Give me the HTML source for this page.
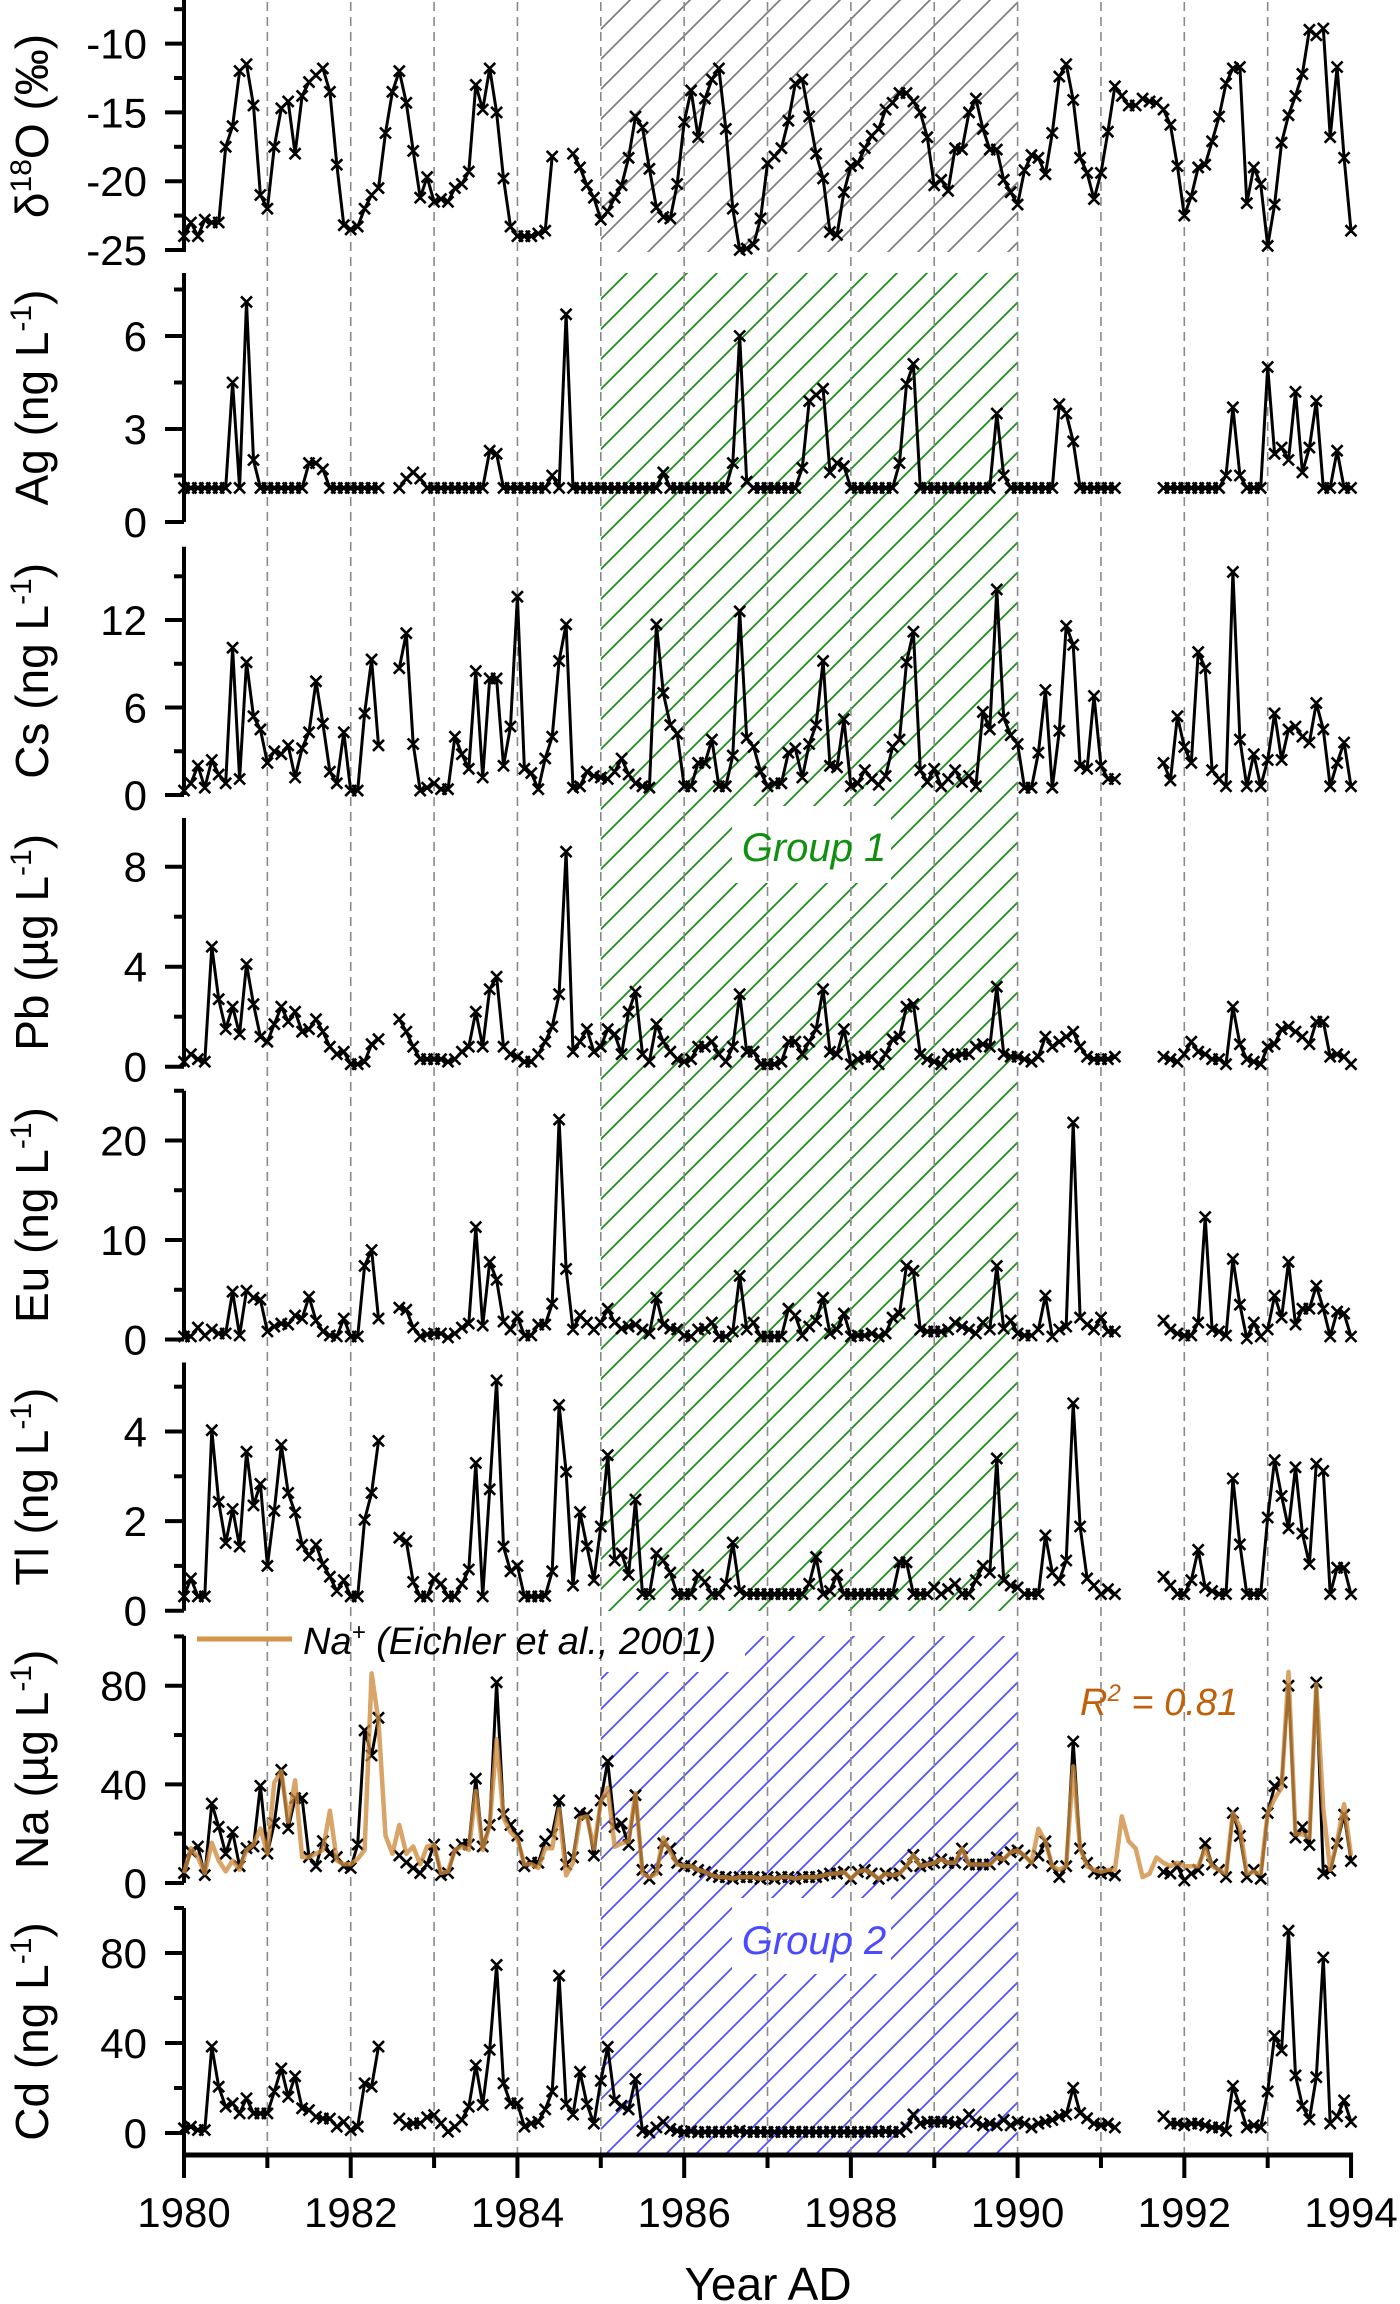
<!DOCTYPE html>
<html><head><meta charset="utf-8"><title>Ice core trace elements 1980-1994</title>
<style>
html,body{margin:0;padding:0;background:#fff;}
svg{display:block;font-family:"Liberation Sans",Arial,sans-serif;}
</style></head>
<body>
<svg id="chart" width="1400" height="2304" viewBox="0 0 1400 2304" xmlns="http://www.w3.org/2000/svg">
<defs>
<pattern id="hatchGray" patternUnits="userSpaceOnUse" width="30" height="30"><path d="M-5,5 L5,-5 M0,30 L30,0 M25,35 L35,25" stroke="#808080" stroke-width="1.8"/></pattern>
<pattern id="hatchGreen" patternUnits="userSpaceOnUse" width="30" height="30"><path d="M-5,5 L5,-5 M0,30 L30,0 M25,35 L35,25" stroke="#1a8f1a" stroke-width="1.8"/></pattern>
<pattern id="hatchBlue" patternUnits="userSpaceOnUse" width="30" height="30"><path d="M-5,5 L5,-5 M0,30 L30,0 M25,35 L35,25" stroke="#5050ff" stroke-width="1.8"/></pattern>
</defs>
<rect x="0" y="0" width="1400" height="2304" fill="#fff"/>
<g id="hatch">
<rect x="600.8" y="0" width="416.8" height="252" fill="url(#hatchGray)"/>
<rect x="600.8" y="273" width="416.8" height="1338" fill="url(#hatchGreen)"/>
<rect x="600.8" y="1636" width="416.8" height="519" fill="url(#hatchBlue)"/>
<rect x="732" y="806" width="159" height="77" fill="#fff"/>
<rect x="732" y="1898" width="159" height="76" fill="#fff"/>
<rect x="190" y="1614" width="555" height="58" fill="#fff"/>
</g>
<g id="grid"></g>
<g id="axes"></g>
<g id="series"></g>
<g id="labels">
<text x="814" y="861" font-size="40" font-style="italic" fill="#109010" text-anchor="middle">Group 1</text>
<text x="814" y="1954" font-size="40" font-style="italic" fill="#4a4aff" text-anchor="middle">Group 2</text>
<line x1="197" y1="1639" x2="292" y2="1639" stroke="#d4944a" stroke-width="5"/>
<text x="303" y="1654" font-size="38" font-style="italic" fill="#000">Na<tspan font-size="24" dy="-14">+</tspan><tspan dy="14"> (Eichler et al., 2001)</tspan></text>
<text x="1080" y="1715" font-size="38" font-style="italic" fill="#c0600a">R<tspan font-size="24" dy="-14">2</tspan><tspan dy="14"> = 0.81</tspan></text>
<text x="768" y="2300" font-size="46" text-anchor="middle" fill="#000">Year AD</text>
</g>
</svg>
<script>
// ---- data (12 samples per year, 1980.0 .. 1994.0) ----
const yearTicks = [1980,1982,1984,1986,1988,1990,1992,1994];
const gridYears = [1981,1982,1983,1984,1985,1986,1987,1988,1989,1990,1991,1992,1993];
const d18O = [
-24,-23,-24,-22.8,-23,-23,-17.5,-16,-12,-11.5,-14.5,-21,
-22,-17.5,-14.7,-14.2,-18,-13.8,-12.8,-12.3,-11.8,-13.5,-18.8,-23.2,
-23.5,-23.3,-22,-21,-20.5,-16.5,-13.5,-12,-14.3,-17.8,-21.2,-19.7,
-21.5,-21.3,-21.5,-20.5,-20.2,-19.3,-13,-14.8,-11.8,-15,-19.8,-23.3,
-24,-24,-24,-23.8,-23.6,-18.2,null,null,-18,-19,-20.3,-21.2,
-22.8,-22.2,-21.2,-20.3,-18.3,-15.3,-16.1,-19.1,-21.9,-22.6,-22.7,-20.2,
-15.7,-13.4,-16.8,-14,-12.6,-11.8,-16.2,-22,-25,-24.9,-24.6,-22.7,
-18.7,-18.2,-17.6,-15.6,-12.9,-12.6,-15.3,-18,-19.8,-23.7,-23.9,-20.8,
-18.9,-18.7,-17.6,-16.7,-16.2,-14.8,-14.3,-13.6,-13.6,-14.2,-15,-16.8,
-20.3,-19.9,-20.7,-17.6,-17.7,-15,-14,-16.2,-17.7,-17.7,-19.9,-20.8,
-21.7,-19.2,-18.1,-18.3,-19.5,-16.5,-12.4,-11.5,-14.1,-18.3,-19.4,-21.3,
-19.4,-16.4,-13.1,-13.8,-14.5,-14.5,-14,-14.2,-14.3,-14.8,-15.9,-18.9,
-22.5,-21.1,-19,-18.8,-17.1,-15.3,-12.9,-11.8,-11.7,-21.6,-19,-20.2,
-24.7,-21.7,-17.2,-15.2,-13.8,-12.2,-9,-9.4,-8.9,-16.8,-11.7,-18.3,
-23.6];
const ag = [
1.1,1.1,1.1,1.1,1.1,1.1,1.1,4.5,1.1,7.1,2.0,1.1,
1.1,1.1,1.1,1.1,1.1,1.1,1.9,1.9,1.7,1.1,1.1,1.1,
1.1,1.1,1.1,1.1,1.1,null,null,1.1,1.4,1.6,1.4,1.1,
1.1,1.1,1.1,1.1,1.1,1.1,1.1,1.1,2.3,2.2,1.1,1.1,
1.1,1.1,1.1,1.1,1.1,1.5,1.1,6.7,1.1,1.1,1.1,1.1,
1.1,1.1,1.1,1.1,1.1,1.1,1.1,1.1,1.1,1.6,1.1,1.1,
1.1,1.1,1.1,1.1,1.1,1.1,1.1,1.9,6.0,1.3,1.1,1.1,
1.1,1.1,1.1,1.1,1.1,1.75,3.9,4.1,4.3,1.6,1.9,1.8,
1.1,1.1,1.1,1.1,1.1,1.1,1.1,1.9,4.45,5.1,1.1,1.1,
1.1,1.1,1.1,1.1,1.1,1.1,1.1,1.1,1.1,3.5,1.5,1.1,
1.1,1.1,1.1,1.1,1.1,1.1,3.8,3.5,2.6,1.1,1.1,1.1,
1.1,1.1,1.1,null,null,null,null,null,null,1.1,1.1,1.1,
1.1,1.1,1.1,1.1,1.1,1.1,1.5,3.7,1.5,1.1,1.1,1.1,
5.0,2.2,2.4,2.0,4.2,1.6,2.4,3.9,1.1,1.1,2.3,1.1,
1.1];
const cs = [
0.3,0.8,2.0,0.5,2.4,1.4,0.8,10.1,1.1,9.1,5.4,4.5,
2.2,3.0,2.8,3.4,1.2,3.2,4.3,7.8,4.9,1.6,0.8,4.3,
0.3,0.3,5.6,9.3,3.4,null,null,8.7,11.1,3.5,0.3,0.5,
0.8,0.4,0.4,4.0,2.8,1.8,8.5,1.2,8.0,8.0,2.0,4.7,
13.6,1.8,1.5,0.4,2.5,4.0,9.2,11.7,0.5,0.6,1.6,1.3,
1.2,1.1,1.6,2.5,1.4,0.8,0.6,0.5,11.7,7.0,4.8,4.2,
0.6,0.6,2.2,2.2,3.8,0.6,0.6,2.7,12.6,3.9,3.3,1.6,
0.6,0.8,0.8,2.9,3.2,1.2,3.5,4.8,9.2,2.0,1.9,5.2,
0.6,0.8,1.7,1.1,0.7,1.3,3.3,3.8,9.1,11.2,1.7,0.9,
1.8,0.6,1.1,1.7,0.9,1.3,0.6,5.7,4.5,14.1,5.3,4.1,
3.5,0.5,0.5,2.9,7.2,0.5,4.4,11.6,10.3,2.0,1.8,6.8,
2.0,1.1,1.1,null,null,null,null,null,null,2.2,1.0,5.4,
3.3,2.2,9.8,8.7,1.7,1.1,0.6,15.3,3.8,0.6,2.8,0.6,
2.4,5.6,2.4,4.5,4.7,4.0,3.6,6.3,4.5,0.6,2.2,3.6,
0.6];
const pb = [
0.2,0.5,0.3,0.2,4.8,2.7,1.5,2.4,1.3,4.1,2.5,1.2,
1.0,1.7,2.4,1.8,2.2,1.4,1.5,1.9,1.4,0.8,0.5,0.6,
0.1,0.1,0.2,0.9,1.1,null,null,1.9,1.4,0.8,0.3,0.3,
0.3,0.3,0.2,0.3,0.6,0.8,2.2,0.8,3.1,3.6,0.8,0.5,
0.4,0.2,0.2,0.5,1.0,1.6,2.9,8.6,0.6,1.0,1.5,0.6,
0.8,1.5,1.3,0.5,2.2,3.0,0.5,0.2,1.7,1.0,0.6,0.3,
0.2,0.3,0.8,0.8,1.0,0.5,0.2,0.8,2.9,0.6,0.6,0.1,
0.1,0.1,0.2,1.0,1.0,0.5,1.0,1.5,3.1,0.6,0.5,1.5,
0.1,0.3,0.4,0.4,0.1,0.5,1.1,1.2,2.4,2.5,0.5,0.3,
0.2,0.1,0.5,0.4,0.5,0.5,0.8,0.9,0.8,3.2,0.5,0.4,
0.4,0.3,0.2,0.4,1.2,0.8,1.0,1.2,1.4,0.8,0.4,0.3,
0.3,0.3,0.4,null,null,null,null,null,null,0.4,0.3,0.2,
0.5,1.0,0.6,0.5,0.3,0.3,0.1,2.4,0.9,0.3,0.2,0.1,
0.8,0.9,1.5,1.6,1.4,1.2,0.9,1.8,1.8,0.4,0.5,0.4,
0.1];
const eu = [
0.3,0.3,1.2,0.4,1.0,0.6,0.6,4.8,0.4,4.9,4.2,4.0,
0.8,1.3,1.6,1.5,2.4,2.1,4.3,1.9,0.8,0.4,0.3,2.1,
0.3,0.3,7.4,9.0,2.1,null,null,3.2,3.0,1.2,0.3,0.5,
0.6,0.6,0.2,0.6,1.2,1.6,11.3,1.4,7.8,6.0,1.8,1.0,
2.3,0.4,0.4,1.5,1.5,3.6,22.1,7.1,1.0,2.4,1.7,1.0,
1.7,3.1,1.7,1.1,1.3,1.5,1.0,0.6,4.2,1.5,1.1,1.0,
0.4,0.3,1.0,1.1,1.7,0.3,0.3,0.8,6.4,1.0,1.7,0.3,
0.3,0.3,0.3,3.1,2.4,0.4,1.3,1.9,4.2,0.6,1.0,2.6,
0.3,0.4,0.4,0.6,0.3,0.6,2.2,2.6,7.4,6.9,1.0,0.8,
0.8,0.8,1.0,1.7,1.3,1.0,0.6,1.7,1.0,7.4,1.1,1.9,
0.6,0.4,0.4,1.0,4.4,0.3,1.0,1.3,21.8,2.2,1.5,1.0,
2.2,0.8,0.8,null,null,null,null,null,null,1.9,1.0,0.6,
0.4,0.4,1.7,12.3,1.0,0.8,0.4,8.1,3.5,0.1,1.7,0.3,
1.0,4.4,2.2,7.8,1.5,3.1,3.1,5.4,3.1,0.3,2.8,2.6,
0.3];
const tl = [
0.32,0.72,0.32,0.32,4.03,2.43,1.51,2.27,1.43,3.55,2.35,2.83,
1.0,2.23,3.7,2.63,2.19,1.47,1.23,1.47,1.04,0.76,0.44,0.68,
0.32,0.32,2.03,2.63,3.79,null,null,1.63,1.55,0.64,0.32,0.32,
0.72,0.6,0.32,0.32,0.6,0.92,3.3,0.32,2.71,5.14,1.43,0.88,
1.0,0.32,0.32,0.32,0.33,0.88,4.59,3.1,0.56,2.2,1.44,0.68,
1.88,3.47,1.12,1.28,0.8,2.48,0.37,0.37,1.28,1.12,0.85,0.37,
0.37,0.37,0.8,0.64,0.37,0.37,0.6,1.52,0.44,0.37,0.37,0.37,
0.37,0.37,0.37,0.37,0.37,0.37,0.6,1.2,0.37,0.44,0.8,0.37,
0.37,0.37,0.37,0.37,0.37,0.37,0.37,1.08,1.08,0.37,0.37,0.37,
0.52,0.37,0.48,0.6,0.37,0.37,0.68,1.0,0.85,3.4,0.68,0.56,
0.52,0.37,0.37,0.37,1.68,0.85,0.68,1.12,4.63,1.88,0.72,0.56,
0.37,0.48,0.37,null,null,null,null,null,null,0.76,0.56,0.37,
0.37,0.68,1.36,0.52,0.44,0.37,0.37,2.95,1.48,0.37,0.37,0.37,
2.08,3.36,2.56,1.84,3.2,1.72,1.04,3.28,3.12,0.37,0.96,0.96,
0.37];
const na = [
4.0,12.7,14.8,3.2,32.2,22.8,11.9,20.7,6.8,14.1,14.8,39.4,
11.9,24.3,45.9,22.1,34.4,34.4,10.5,6.8,17,11.9,10.5,6.8,
6.1,15.6,61.9,51.7,67,null,null,11.2,8.3,6.1,4.0,7.6,
15.6,3.2,4.0,13.4,15.6,15.6,42.3,14.8,23.5,81.4,27.9,23.5,
19.2,6.8,8.3,8.2,16.9,19.8,33.5,7.5,10.4,28.4,27.7,11.1,
33.5,49.4,22.7,24.1,15.4,35.6,5.3,1.7,5.3,16.1,14,8.2,
6.8,6.8,5.3,4.5,3.1,2.4,2.4,1.7,2.4,2.4,2.4,1.7,
2.4,1.7,2.4,2.4,1.7,2.4,2.4,2.4,3.1,3.8,3.8,4.5,
1.7,4.5,5.3,3.8,1.7,3.8,3.1,3.8,6.8,11.4,6.8,7.5,
8.2,9.6,8.2,8.2,14,7.5,7.5,7.5,7.5,10.4,9.6,12.5,
13.2,11.1,8.2,11.1,16.9,6.8,2.4,6.8,57.4,14,8.2,4.5,
3.8,4.5,3.1,null,null,null,null,null,null,4.5,3.8,6.8,
1.0,3.8,5.3,16.1,7.5,5.3,2.4,28.4,19.1,2.4,5.3,1.7,
28.4,39.3,40.8,80,18.4,22.7,15.4,81.3,3.8,5.0,16.1,27.7,
8.9];
const naPlus = [
4,14.1,10.5,4,16.3,9.1,4.7,9.1,5.4,13.4,15.6,22.1,
11.9,40.8,45.2,24.9,41.6,10.5,10.5,11.9,13.4,29.3,9.1,7.6,
7.6,9.8,13.4,85,65.6,19.2,11.9,23.5,11.9,14.8,7.6,14.8,
15.6,4.0,4.7,13.4,14.8,13.4,37.3,13.4,23.5,58.3,26.4,20.7,
17.8,7.6,7.6,6.1,14.1,14.1,30,3.1,8.2,26.3,27,14,
32.8,38.6,14.7,16.1,16.9,36.4,3.8,2.4,3.8,18.4,12.5,7.5,
6.8,6.8,5.3,4.5,3.1,2.4,2.4,1.7,2.4,2.4,2.4,1.7,
2.4,1.7,2.4,2.4,1.7,2.4,2.4,2.4,3.1,3.8,3.8,4.5,
1.7,4.5,5.3,3.8,1.7,3.8,3.1,3.8,6.8,11.4,6.8,7.5,
8.2,9.6,8.2,8.2,14,7.5,7.5,7.5,7.5,10.4,9.6,12.5,
13.2,11.1,8.2,22,16.9,6.8,5.3,6.8,47.3,14,6.8,5.3,
4.5,5.3,5.3,27,16.9,14,2.4,3.8,10.4,8.2,6.8,8.2,
6.8,6.8,6.8,14,6.8,5.3,3.8,28.4,22.7,3.8,4.5,3.8,
28.4,34.2,38.6,85.6,19.8,19.8,18.4,80.5,30,5.3,16.9,32,
11.1];
const cd = [
2.1,2.8,1.3,1.3,38.4,20.6,11.7,13.2,8.7,15.4,8.7,8.7,
8.7,18.4,28.7,16.1,25.2,11,10.2,7.2,6.4,6.4,2.8,5.0,
1.3,2.8,22.1,20.6,38.4,null,null,6.4,3.6,4.3,4.3,7,
8,4.3,0.6,2.8,5.8,11.7,30.1,12.5,37,74.7,22.1,13.2,
13.2,2.8,4.3,5.0,10.5,18.5,69.9,12.9,8.2,27.2,12.9,4.2,
23.2,38.3,14.5,12.1,10.5,24,1.0,0.2,2.5,5.0,1.8,1.0,
0.5,0.8,0.3,0.5,0.6,0.4,0.5,0.5,1.0,0.5,0.4,0.5,
0.5,0.5,0.4,0.5,0.6,0.5,0.5,0.4,0.5,0.6,0.5,0.5,
0.5,0.4,0.5,0.6,0.5,0.8,0.5,0.5,2.5,8.2,4.2,5.0,
5,5,5,4.2,5,8.2,5,3.4,4.2,3.4,5.8,3.4,
5,4.2,2.5,4.2,5,5.8,7.4,8.2,20.1,8.9,6.6,4.2,
3.4,4.2,2.5,null,null,null,null,null,null,7.4,4.2,4.2,
3.4,4.2,4.2,3.4,2.5,2.5,1.0,20.9,12.1,2.5,3.4,2.5,
18.5,43.1,36.7,89.9,25.6,12.1,6.0,24.8,78,4.2,7.4,14.5,
5.0];
const d18OTicks = [-10,-15,-20,-25];
const agTicks = [0,3,6];
const csTicks = [0,6,12];
const pbTicks = [0,4,8];
const euTicks = [0,10,20];
const tlTicks = [0,2,4];
const naTicks = [0,40,80];
const cdTicks = [0,40,80];

// ---- layout ----
const X0 = 184, PX_PER_YEAR = 83.36, START = 1980, PER_YEAR = 12;
function xScale(t){ return X0 + (t - START) * PX_PER_YEAR; }
function makeY(refVal, refPx, pxPerUnit){ return v => refPx - (v - refVal) * pxPerUnit; }
const NS = 'http://www.w3.org/2000/svg';
function el(tag, attrs, parent){ const e = document.createElementNS(NS, tag); for (const k in attrs) e.setAttribute(k, attrs[k]); parent.appendChild(e); return e; }

const panels = [
 {key:'d18o', data:d18O, ticks:d18OTicks, minorStep:5, top:0, bottom:252, y:makeY(-10,43.6,13.76), title:['δ','18','O (‰)']},
 {key:'ag', data:ag, ticks:agTicks, minorStep:3, top:273, bottom:522, y:makeY(0,522,31.0), title:['Ag (ng L','-1',')']},
 {key:'cs', data:cs, ticks:csTicks, minorStep:6, top:546.7, bottom:795, y:makeY(0,795,14.58), title:['Cs (ng L','-1',')']},
 {key:'pb', data:pb, ticks:pbTicks, minorStep:4, top:818, bottom:1066.7, y:makeY(0,1066.7,25), title:['Pb (µg L','-1',')']},
 {key:'eu', data:eu, ticks:euTicks, minorStep:10, top:1090.7, bottom:1339.5, y:makeY(0,1339.5,9.95), title:['Eu (ng L','-1',')']},
 {key:'tl', data:tl, ticks:tlTicks, minorStep:2, top:1362.5, bottom:1610.7, y:makeY(0,1610.7,44.8), title:['Tl (ng L','-1',')']},
 {key:'na', data:na, ticks:naTicks, minorStep:40, top:1635.7, bottom:1883, y:makeY(0,1883,2.466), title:['Na (µg L','-1',')']},
 {key:'cd', data:cd, ticks:cdTicks, minorStep:40, top:1908, bottom:2155, y:makeY(0,2133,2.25), title:['Cd (ng L','-1',')']}
];

const grid = document.getElementById('grid');
const axes = document.getElementById('axes');
const series = document.getElementById('series');

gridYears.forEach(yr => {
  const gl = el('line', {x1:xScale(yr), x2:xScale(yr), y1:2, y2:2155, stroke:'#8a8a8a', 'stroke-width':1.6, 'stroke-dasharray':'9 6'}, grid);
  
  
});

function seriesPath(data, yFn){
  let d = '', pen = false;
  data.forEach((v, i) => {
    if (v === null){ pen = false; return; }
    const px = xScale(START + i / PER_YEAR), py = yFn(v);
    d += (pen ? 'L' : 'M') + px.toFixed(1) + ',' + py.toFixed(1);
    pen = true;
  });
  return d;
}

panels.forEach(p => {
  const g = el('g', {}, axes);
  
  
  const ax = el('line', {x1:X0, x2:X0, y1:p.top, y2:p.bottom, stroke:'#000', 'stroke-width':4}, g);
  
  
  p.ticks.forEach(t => {
    const ty = p.y(t);
    const tk = el('line', {x1:165, x2:X0, y1:ty, y2:ty, stroke:'#000', 'stroke-width':4}, g);
    
    
    const lb = el('text', {x:147, y:ty + 15, 'font-size':42, 'text-anchor':'end', fill:'#000'}, g);
    lb.textContent = String(t);
    
    
  });
  const sorted = p.ticks.slice().sort((a,b)=>a-b);
  const mins = [];
  for (let i = 0; i < sorted.length; i++) mins.push(sorted[i] + p.minorStep / 2);
  if (p.key === 'd18o') mins.push(sorted[sorted.length-1] + p.minorStep * 1.5);
  mins.forEach(m => {
    const my = p.y(m);
    if (my < p.top - 1 || my > p.bottom + 1) return;
    const mt = el('line', {x1:174, x2:X0, y1:my, y2:my, stroke:'#000', 'stroke-width':4}, g);
    
    
  });
  const cy = (p.top + p.bottom) / 2;
  const tt = el('text', {x:0, y:0, 'font-size':46, 'text-anchor':'middle', fill:'#000', transform:'translate(48,' + cy + ') rotate(-90)'}, g);
  
  
  const s1 = el('tspan', {}, tt); s1.textContent = p.title[0];
  const s2 = el('tspan', {'font-size':30, dy:-17}, tt); s2.textContent = p.title[1];
  const s3 = el('tspan', {dy:17}, tt); s3.textContent = p.title[2];

  const path = el('path', {d:seriesPath(p.data, p.y), fill:'none', stroke:'#000', 'stroke-width':3, 'stroke-linejoin':'round'}, series);
  
  
  let md = '';
  p.data.forEach((v, i) => {
    if (v === null) return;
    const px = xScale(START + i / PER_YEAR), py = p.y(v), s = 5.5;
    md += 'M' + (px-s).toFixed(1) + ',' + (py-s).toFixed(1) + 'L' + (px+s).toFixed(1) + ',' + (py+s).toFixed(1) +
          'M' + (px-s).toFixed(1) + ',' + (py+s).toFixed(1) + 'L' + (px+s).toFixed(1) + ',' + (py-s).toFixed(1);
  });
  const mk = el('path', {d:md, fill:'none', stroke:'#000', 'stroke-width':2.6}, series);
  
  

  if (p.key === 'na'){
    const op = el('path', {d:seriesPath(naPlus, p.y), fill:'none', stroke:'#cd8a3e', 'stroke-width':4.5, 'stroke-opacity':0.78, 'stroke-linejoin':'round'}, series);
    
    
  }
});

const xg = el('g', {}, axes);


const xl = el('line', {x1:X0-2, x2:xScale(1994)+2, y1:2155, y2:2155, stroke:'#000', 'stroke-width':5}, xg);


gridYears.forEach(yr => {
  if (yearTicks.indexOf(yr) >= 0) return;
  const mt = el('line', {x1:xScale(yr), x2:xScale(yr), y1:2155, y2:2168, stroke:'#000', 'stroke-width':4}, xg);
  
  
});
yearTicks.forEach(yr => {
  const t = el('line', {x1:xScale(yr), x2:xScale(yr), y1:2155, y2:2178, stroke:'#000', 'stroke-width':4}, xg);
  
  
  const lb = el('text', {x:xScale(yr), y:2227, 'font-size':42, 'text-anchor':'middle', fill:'#000'}, xg);
  lb.textContent = String(yr);
  
  
});
</script>
</body></html>
